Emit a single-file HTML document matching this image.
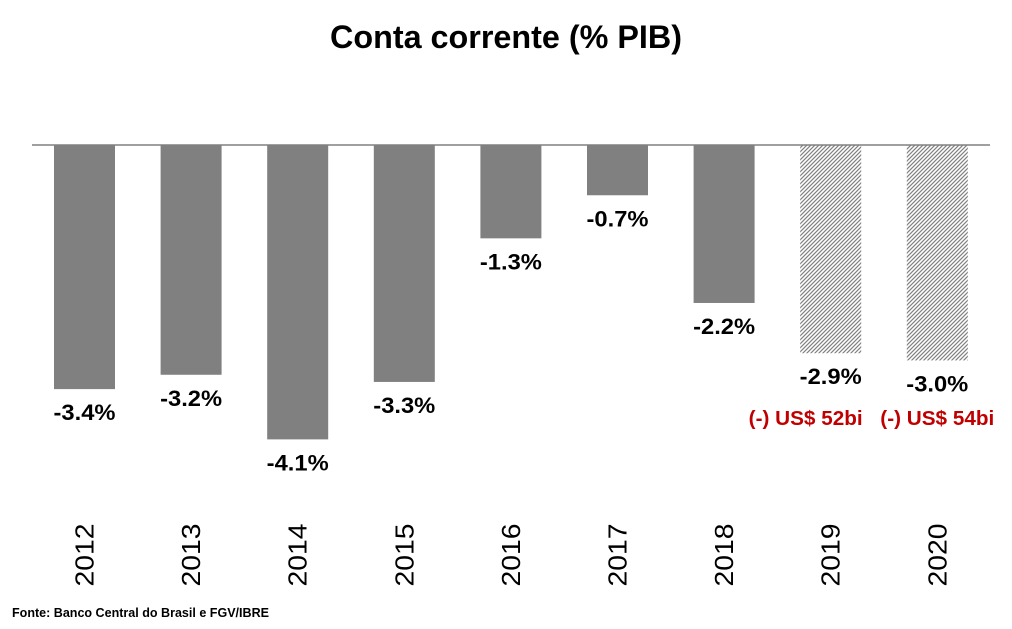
<!DOCTYPE html>
<html><head><meta charset="utf-8"><style>
html,body{margin:0;padding:0;background:#fff;}
svg{display:block;font-family:"Liberation Sans",sans-serif;}
</style></head><body>
<svg id="chart" width="1012" height="629" viewBox="0 0 1012 629">
<defs>
<pattern id="hatch" width="4" height="4" patternUnits="userSpaceOnUse">
<path d="M-1,1 L1,-1 M0,4 L4,0 M3,5 L5,3" stroke="#808080" stroke-width="1.2"/>
</pattern>
</defs>
<text x="506" y="48" text-anchor="middle" font-size="32" font-weight="bold" textLength="352" lengthAdjust="spacingAndGlyphs">Conta corrente (% PIB)</text>
<g id="bars"></g>
<line x1="32" y1="145" x2="990" y2="145" stroke="#808080" stroke-width="1.5"/>
<text x="12" y="617" font-size="12.5" font-weight="bold" textLength="257" lengthAdjust="spacingAndGlyphs">Fonte: Banco Central do Brasil e FGV/IBRE</text>
</svg>
<script>
const years = ['2012','2013','2014','2015','2016','2017','2018','2019','2020'];
const values = [-3.4,-3.2,-4.1,-3.3,-1.3,-0.7,-2.2,-2.9,-3.0];
const valueLabels = ['-3.4%','-3.2%','-4.1%','-3.3%','-1.3%','-0.7%','-2.2%','-2.9%','-3.0%'];
const projected = [false,false,false,false,false,false,false,true,true];
const usdNotes = ['','','','','','','','(-) US$ 52bi','(-) US$ 54bi'];

const ns='http://www.w3.org/2000/svg';
const g=document.getElementById('bars');
const y0=145, pxPerUnit=71.8;
function yScale(v){return y0 - v*pxPerUnit;}
function xCenter(i){return 84.5 + i*106.6;}
const bw=61;
function mk(tag,attrs,text){const e=document.createElementNS(ns,tag);for(const k in attrs)e.setAttribute(k,attrs[k]);if(text!==undefined)e.textContent=text;g.appendChild(e);return e;}
years.forEach((yr,i)=>{
  const cx=xCenter(i), yb=yScale(values[i]);
  const r=mk('rect',{x:cx-bw/2,y:Math.min(y0,yb),width:bw,height:Math.abs(yb-y0),fill:projected[i]?'url(#hatch)':'#808080'});
  
  
  const t=mk('text',{x:cx,y:Math.max(y0,yb)+31,'text-anchor':'middle','font-size':'22','font-weight':'bold',fill:'#000',textLength:'62',lengthAdjust:'spacingAndGlyphs'},valueLabels[i]);
  
  
  if(usdNotes[i]){
    const n=mk('text',{x:(i===7?cx-25:cx),y:425,'text-anchor':'middle','font-size':'20','font-weight':'bold',fill:'#c00000',textLength:'114',lengthAdjust:'spacingAndGlyphs'},usdNotes[i]);
    
    
  }
  const yl=mk('text',{x:0,y:0,'text-anchor':'middle','font-size':'26',fill:'#000',transform:'translate('+(cx+9)+',555) rotate(-90)',textLength:'63',lengthAdjust:'spacingAndGlyphs'},yr);
  
  
});
</script>
</body></html>
